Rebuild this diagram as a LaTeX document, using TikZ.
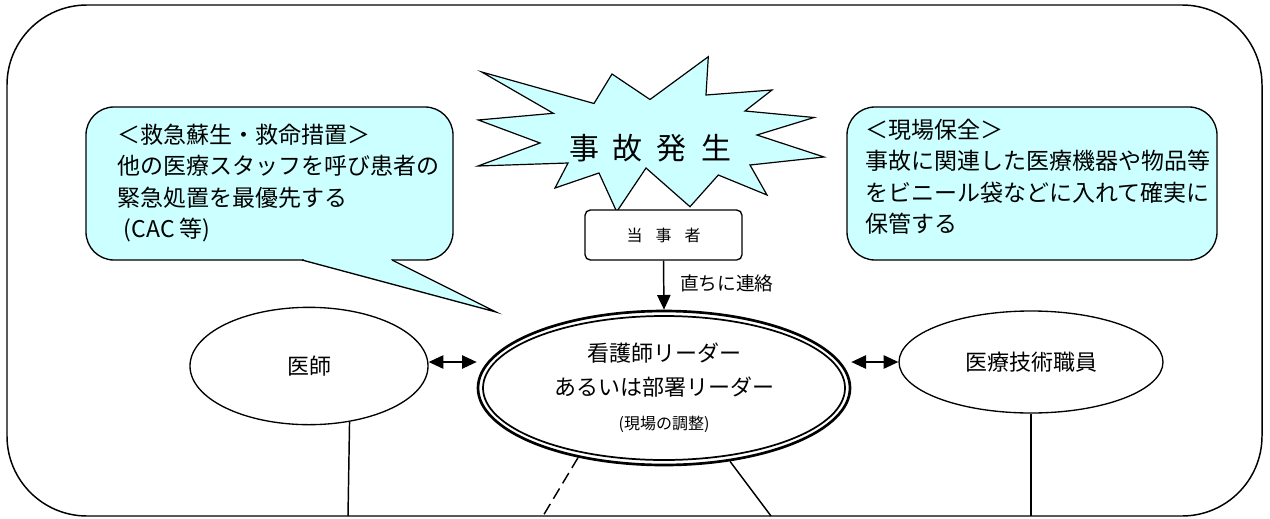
\documentclass[tikz,border=0pt]{standalone}
\usepackage{fontspec}
\setmainfont{Noto Sans CJK JP}
\usetikzlibrary{arrows.meta,shapes.geometric}
\definecolor{callout}{RGB}{204,255,255}
\begin{document}
\begin{tikzpicture}[x=0.75pt,y=-0.75pt,
  frame/.style={draw,line width=1.1pt,rounded corners=60pt},
  bubble/.style={draw,fill=callout,line width=1pt,rounded corners=21pt,inner sep=0pt},
  oval/.style={draw,ellipse,line width=1pt,inner sep=0pt,font=\fontsize{16.5}{20}\selectfont},
  link/.style={line width=1.1pt},
  tiparrow/.style={-{Triangle[length=11pt,width=10pt]}},
  twoway/.style={{Triangle[length=11pt,width=10pt]}-{Triangle[length=11pt,width=10pt]}},
  txt/.style={inner sep=0pt},
  bodytext/.style={inner sep=0pt,anchor=north west,align=left,font=\fontsize{17.25}{23.6}\selectfont}
]
\useasboundingbox (0,0) rectangle (1270,518);
\draw[frame] (7,5) rectangle (1262,516);

% starburst
\draw[fill=callout,line width=0.9pt,line join=miter]
 (481.7,72) -- (553.3,113.3) -- (478.3,120) -- (540,143) -- (478,166) -- (568,163)
 -- (555,188) -- (599,173) -- (616.7,211.7) -- (646,168) -- (690,206.7)
 -- (718.3,175) -- (767,195) -- (750,165) -- (824,157) -- (757,135)
 -- (814,117.5) -- (745,111) -- (772,90) -- (706,95) -- (708.3,56.7)
 -- (650,99.5) -- (612,74) -- (594,103.5) -- cycle;
\node[txt,font=\fontsize{22.5}{27}\selectfont] (accident) at (650,148)
 {事\hspace{10.5pt}故\hspace{10.5pt}発\hspace{10.5pt}生};

% party box
\node[draw,fill=white,rounded corners=4pt,line width=1pt,inner sep=0pt,
  minimum width=117.75pt,minimum height=37.5pt,font=\fontsize{12}{14}\selectfont]
  (party) at (663.5,235) {当\hspace{9.75pt}事\hspace{9.75pt}者};

% left callout
\node[bubble,minimum width=275.25pt,minimum height=114.75pt] (rescue) at (269.5,183.5) {};
\fill[callout] (302,260) -- (392,260) -- (496,312) -- cycle;
\fill[callout] (303.5,258.6) rectangle (390.5,260.6);
\draw[line width=1pt,line join=miter] (302,260) -- (496,312) -- (392,260);
\node[bodytext] (rescuetext) at (117,123.5)
 {＜救急蘇生・救命措置＞\\他の医療スタッフを呼び患者の\\緊急処置を最優先する\\\hspace*{5pt}(CAC 等)};

% right callout
\node[bubble,minimum width=277.5pt,minimum height=114.75pt] (preserve) at (1032,183.5) {};
\node[bodytext] (preservetext) at (865,118.5)
 {＜現場保全＞\\事故に関連した医療機器や物品等\\をビニール袋などに入れて確実に\\保管する};

% ellipses
\node[oval,minimum width=178.5pt,minimum height=88pt] (doc) at (309,366) {医師};
\node[draw,ellipse,line width=2pt,inner sep=0pt,minimum width=279pt,minimum height=115.5pt,
  align=center,font=\fontsize{16.5}{25.5}\selectfont] (leader) at (664,388)
  {看護師リーダー\\あるいは部署リーダー\\{\fontsize{12}{14}\selectfont (現場の調整)}};
\draw[line width=1.3pt] (leader.center) ellipse [x radius=181, y radius=72];
\node[oval,minimum width=198pt,minimum height=76.5pt] (tech) at (1031,362) {医療技術職員};

% connectors
\draw[link,tiparrow] (party.south) -- (leader.north);
\node[txt,anchor=west,font=\fontsize{14}{16}\selectfont] (notify) at (680,283) {直ちに連絡};
\draw[link,twoway] ([yshift=3pt]doc.east) -- ([yshift=3pt]doc.east -| leader.west);
\draw[link,twoway] (leader.east |- tech.west) -- (tech.west);

\coordinate (docend) at (348,516);
\coordinate (solidend) at (771,516);
\coordinate (dashend) at (543,516);
\coordinate (techend) at (1031,516);
\draw[link] (doc.-54) -- (docend);
\draw[link] (leader.-48.4) -- (solidend);
\draw[link,dash pattern=on 9pt off 4.5pt] (leader.-141.7) -- (dashend);
\draw[link] (tech.south) -- (techend);
\end{tikzpicture}
\end{document}
